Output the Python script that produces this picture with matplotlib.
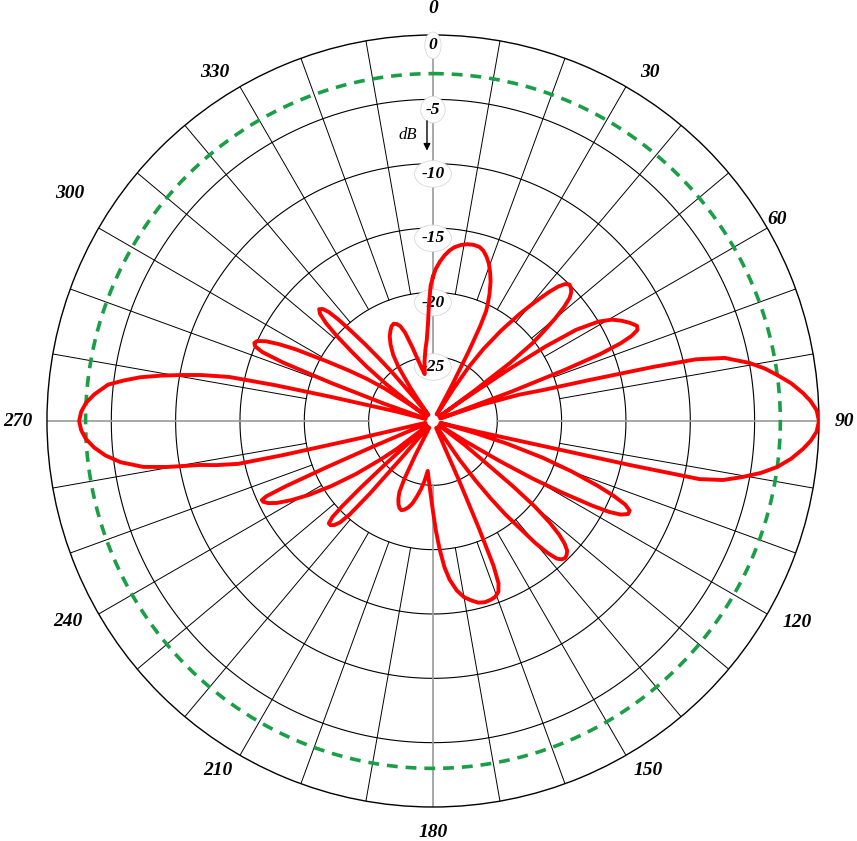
import numpy as np
import matplotlib.pyplot as plt

# antenna pattern: angle (deg, clockwise from north) -> level (dB)
angles = [0, 1, 2.5, 4, 5.5, 7, 9, 11, 13, 15, 16.5, 18, 19.5, 21, 22.5, 24, 25, 25.8, 26.5, 27.2, 28, 29,
          31.5, 32.5, 33.5, 35, 37, 39, 40.5, 42, 43, 44, 45, 46, 47, 48, 49, 50, 51, 52, 53, 53.8, 54.5,
          55, 55.7, 56.5, 57.5, 59, 60.5, 62, 63.5, 65, 66, 66.8, 67.5, 68.2, 68.8, 69.5, 70.3,
          71.5, 73, 74.3, 75.3, 76.2, 76.8, 77.8, 79.6, 81, 82.4, 84, 85.7, 87, 88.4, 90,
          91.6, 93, 94.3, 96, 97.6, 99, 100.3, 101.5, 102.3, 102.6, 102.85, 103.5, 104.5,
          106, 107, 108.5, 110, 111.5, 112.5, 113.5, 114.5, 115.5, 116.5, 117.3, 118, 119, 120, 121, 122, 123,
          125.5, 127, 128.3, 129.2, 130, 131, 132, 133, 134, 135, 136, 137, 138, 139, 140, 141, 142.2, 143.3,
          144.4, 145.5, 147,
          155.5, 156.3, 156.8, 157.3, 158, 159, 160.5, 162, 164, 166, 168, 170, 172, 174, 175.5, 177, 178.5,
          180, 181.5, 183.5, 186,
          188, 190, 192, 194, 196, 198, 199.5, 201, 202.5, 204, 205.3, 206.3, 207.3, 208.5,
          219.5, 220.3, 221, 221.7, 222.5, 223.5, 224.5, 225.5, 226.3, 226.8, 227.3, 227.8, 228.5,
          231, 232.3, 233.7, 235.5, 237.4, 239.2, 240.8, 242.3, 243.5, 244.5, 245.2, 245.7, 246.1, 246.5,
          246.9, 247.5,
          256.3, 256.8, 257.2, 257.6, 258.5, 259.3, 260.2, 261, 262.5, 264, 265.5, 267, 268.5, 270,
          271.5, 273, 274.5, 276.4, 277.5, 278.5, 279.5, 280.4, 281.2, 282.2, 282.8, 283.3, 284.5, 285.5,
          288.5, 289.5, 290.5, 291.3, 292, 292.8, 293.6, 294.5, 295.5, 296.5, 297.6, 299.4, 301, 302.5,
          304, 305.5, 306.5,
          307.3, 308.3, 309.4, 310.4, 311.5, 312.5, 313.5, 314.5, 315.5, 316.3, 317, 317.7, 318.5, 319.3,
          320, 321, 322.5,
          324, 325, 325.9, 327.5, 329, 331, 333, 335, 336.5, 338, 339.5, 341, 342.5, 344.3, 346, 348, 350,
          352, 354, 355.6, 357, 358, 359, 360]
gain_db = [-18.8, -18.2, -17.6, -17.1, -16.7, -16.4, -16.15, -16.0, -15.95, -16.0, -16.2, -16.55, -17.0,
           -17.6, -18.3, -19.2, -19.9, -20.5, -21.8, -24.0, -27.0, -29.4,
           -29.4, -27.0, -25.0, -23.2, -21.2, -19.3, -17.9, -16.5, -15.7, -15.2, -15.0, -15.1, -15.3, -15.7,
           -16.5, -17.6, -18.9, -20.2, -22.5, -26.0, -29.4,
           -27.0, -23.0, -19.5, -16.8, -15.0, -14.0, -13.4, -12.9, -12.5, -12.6, -13.2, -14.2, -16.0, -19.0,
           -23.5, -29.4,
           -26.0, -23.0, -21.1, -17.5, -12.4, -9.0, -6.8, -5.0, -3.9, -3.0, -2.0, -1.15, -0.6, -0.17, 0.0,
           -0.17, -0.6, -1.15, -2.0, -3.0, -4.2, -5.6, -7.0, -8.8, -14.3, -22.3, -26.5, -29.4,
           -26.5, -24.0, -21.0, -18.5, -16.2, -14.8, -13.7, -13.2, -13.2, -13.7, -14.6, -16.0, -18.5, -21.0,
           -24.0, -27.0, -29.4,
           -29.4, -27.0, -25.0, -22.0, -19.7, -18.0, -16.8, -16.0, -15.5, -15.3, -15.2, -15.3, -15.6, -16.4,
           -17.6, -19.3, -20.8, -22.5, -24.3, -26.3, -29.4,
           -29.4, -25.0, -21.0, -17.8, -16.4, -15.8, -15.5, -15.4, -15.35, -15.45, -15.75, -16.1, -16.7,
           -17.6, -18.6, -20.0, -21.5, -23.0, -24.1, -25.2, -26.1,
           -25.3, -24.6, -24.0, -23.4, -23.0, -22.75, -22.65, -22.75, -23.0, -23.4, -23.9, -25.0, -27.0, -29.4,
           -29.4, -26.5, -22.5, -20.3, -19.3, -18.85, -18.65, -18.65, -19.2, -20.3, -22.3, -25.0, -29.4,
           -29.4, -26.5, -24.9, -22.7, -20.6, -18.8, -17.4, -16.3, -15.7, -15.4, -15.35, -15.8, -17.5, -21.0,
           -25.0, -29.4,
           -29.4, -24.0, -18.0, -14.5, -12.8, -11.6, -9.0, -7.2, -5.5, -4.4, -3.6, -3.0, -2.65, -2.5,
           -2.65, -3.0, -3.6, -4.6, -5.8, -7.0, -8.6, -10.2, -11.6, -13.8, -17.5, -21.8, -27.0, -29.4,
           -29.4, -26.0, -21.5, -17.5, -15.7, -15.0, -14.85, -15.0, -15.6, -16.6, -18.0, -20.6, -22.4, -23.9,
           -25.5, -27.8, -29.4,
           -27.5, -25.3, -23.3, -21.8, -20.0, -18.7, -17.9, -17.6, -17.8, -18.3, -19.2, -20.5, -22.0, -23.6,
           -25.0, -27.6, -29.4,
           -29.4, -28.0, -26.8, -25.0, -24.0, -23.2, -22.6, -22.2, -21.95, -21.85, -21.95, -22.2, -22.8,
           -24.0, -25.0, -25.8, -26.3,
           -25.3, -24.4, -23.7, -22.5, -21.0, -19.5, -18.8]

ring_levels = [-25, -20, -15, -10, -5, 0]
ring_labels = ['-25', '-20', '-15', '-10', '-5', '0']
angle_ticks = [0, 30, 60, 90, 120, 150, 180, 210, 240, 270, 300, 330]
ref_level = -3

fig = plt.figure(figsize=(8.57, 8.41), dpi=100)
ax = fig.add_axes([0.0548, 0.0404, 0.9008, 0.918], projection='polar')
ax.set_theta_zero_location('N')
ax.set_theta_direction(-1)
ax.set_ylim(-30, 0)
ax.grid(False)
ax.set_xticks([])
ax.set_yticks([])
ax.spines['polar'].set_color('black')
ax.spines['polar'].set_linewidth(1.0)

circle = np.linspace(0, 2 * np.pi, 721)
for lev in ring_levels[:-1]:
	ax.plot(circle, np.full_like(circle, lev), color='black', lw=0.8, zorder=1)

# spokes every 10 deg, main axes in grey
for a in range(0, 360, 10):
	t = np.deg2rad(a)
	if a % 90 == 0:
		ax.plot([t, t], [-25, 0], color='#999999', lw=1.2, zorder=1)
	else:
		ax.plot([t, t], [-20, 0], color='black', lw=0.7, zorder=1)

ax.plot(circle, np.full_like(circle, ref_level), color='#1a9e46', lw=2.6,
		linestyle=(0, (3, 2.2)), zorder=2)

for lev, lab in zip(ring_levels, ring_labels):
	ax.text(0, lev - 0.8, lab, ha='center', va='center', fontsize=12.5,
			family='Liberation Serif', weight='bold', style='italic', zorder=3,
			bbox=dict(boxstyle='ellipse,pad=0.08', fc='white', ec='#d8d8d8', lw=0.6))

# label spots (angle, radius in dB) as placed in the reference
label_pos = {0: (0, 2.05), 30: (31.9, 1.94), 60: (59.6, 1.0), 90: (90, 2.0),
			 120: (118.9, 2.33), 150: (148.4, 1.86), 180: (180, 2.0), 210: (211.6, 1.86),
			 240: (241.2, 2.4), 270: (270, 2.25), 300: (302.1, 3.3), 330: (328, 1.94)}
for a in angle_ticks:
	t, r = label_pos[a]
	ax.text(np.deg2rad(t), r, str(a), ha='center', va='center', fontsize=14,
			family='Liberation Serif', weight='bold', style='italic', clip_on=False)

ax.text(np.deg2rad(-5.0), -7.7, 'dB', ha='center', va='center', fontsize=12,
		family='Liberation Serif', style='italic')
ax.annotate('', xy=(np.deg2rad(-1.28), -9.2), xytext=(np.deg2rad(-1.13), -6.45),
			arrowprops=dict(arrowstyle='-|>', color='black', lw=1.0, mutation_scale=10))

ax.plot(np.deg2rad(angles), gain_db, color='red', lw=2.8, zorder=5)

fig.savefig('out.png')
